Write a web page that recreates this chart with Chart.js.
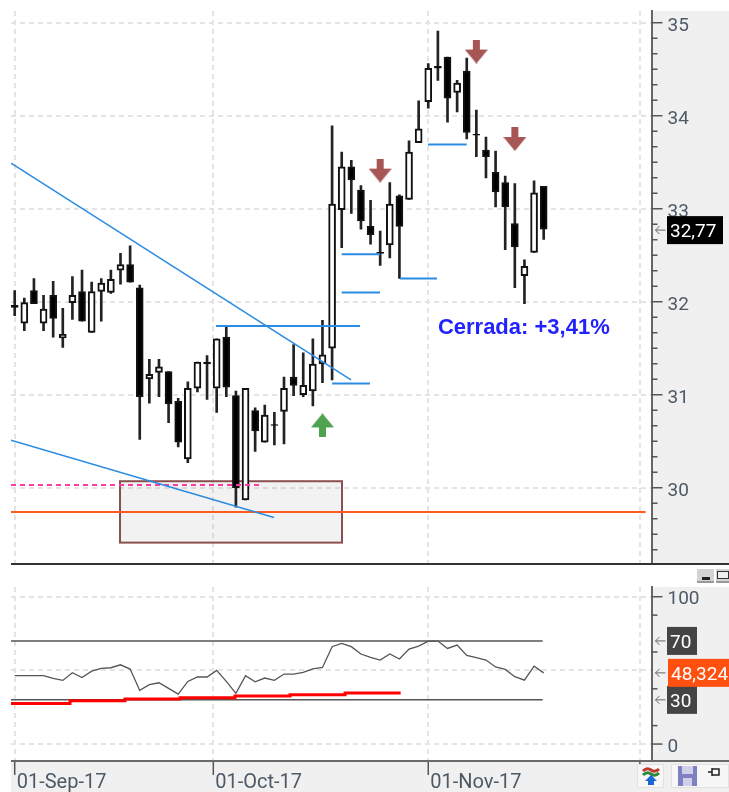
<!DOCTYPE html>
<html lang="en">
<head>
  <meta charset="UTF-8">
  <title>Candlestick chart with RSI</title>
  <script src="https://cdn.jsdelivr.net/npm/chart.js"></script>
  <style>
    body { margin: 0; background: #fff; }
    #page { position: relative; width: 729px; height: 792px; overflow: hidden; }
    #page canvas { position: absolute; left: 0; }
    .panel { position: absolute; background: #f0f0f0; }
    .rule { position: absolute; }
    .btn { position: absolute; background: #f7f7f7; border: 1px solid #e2e2e2; box-sizing: border-box; }
    .win { position: absolute; top: 569px; height: 14px; background: #d4d4d4; border-bottom: 2px solid #999; box-sizing: border-box; }
  </style>
</head>
<body>
<div id="page">
  <div class="panel" style="left:652px;top:11px;width:77px;height:553px"></div>
  <div class="panel" style="left:652px;top:587px;width:77px;height:174px"></div>
  <div class="panel" style="left:11px;top:761px;width:718px;height:31px"></div>
  <div class="win" style="left:697px;width:17px"><div style="position:absolute;left:5px;top:8px;width:8px;height:3px;background:#222"></div></div>
  <div class="win" style="left:716px;width:13px"><div style="position:absolute;left:1px;top:2px;width:12px;height:8px;border:1px solid #333;box-sizing:border-box;background:#eee"></div></div>
  <canvas id="priceChart" width="729" height="564" style="top:0"></canvas>
  <canvas id="rsiChart" width="729" height="227" style="top:565px"></canvas>
  <div class="rule" style="left:11px;top:563px;width:718px;height:2px;background:#333"></div>
  <div class="rule" style="left:11px;top:760px;width:718px;height:2px;background:#6a6a6a"></div>
  <div class="btn" style="left:637px;top:764px;width:27px;height:24px">
    <svg width="25" height="22" viewBox="0 0 25 22">
      <path d="M5 6 Q9 2 13 5 T21 4" stroke="#c0392b" stroke-width="3" fill="none"/>
      <path d="M5 10 Q9 6 13 9 T21 8" stroke="#2e8b3d" stroke-width="3" fill="none"/>
      <path d="M13 10 L19 16 L16 16 L16 20 L10 20 L10 16 L7 16 Z" fill="#1a66d6"/>
    </svg>
  </div>
  <div class="btn" style="left:671px;top:764px;width:58px;height:24px">
    <svg width="56" height="22" viewBox="0 0 56 22">
      <rect x="6" y="1" width="19" height="20" fill="#7f7fc4"/>
      <rect x="10" y="1" width="11" height="8" fill="#cfcfe8"/>
      <rect x="11" y="13" width="9" height="8" fill="#cfcfe8"/>
      <path d="M36 7 H40 M40 3 V11 M40 4 H47 V10 H40" stroke="#222" stroke-width="1.5" fill="none"/>
    </svg>
  </div>
</div>

<script>
  // Daily candles, 01-Sep-17 onward, one entry per trading day
  let opens = [31.96, 31.77, 32.12, 31.77, 32.07, 31.61, 31.99, 32.11, 31.67, 32.11, 32.10, 32.34, 32.40, 32.15,
    31.17, 31.24, 31.25, 30.93, 30.31, 31.07, 31.35, 31.07, 31.62, 30.99, 29.87, 30.83, 30.49, 30.68,
    30.82, 31.19, 31.00, 31.04, 31.33, 31.50, 32.99, 33.45, 33.20, 32.81, 32.53, 32.61, 33.14, 33.10,
    33.71, 34.15, 34.53, 34.63, 34.25, 34.48, 33.80, 33.63, 33.39, 33.28, 32.84, 32.28, 32.53, 33.24];
  let highs = [32.12, 32.04, 32.25, 32.07, 32.22, 31.93, 32.27, 32.34, 32.21, 32.25, 32.34, 32.52, 32.60, 32.18,
    31.38, 31.38, 31.25, 30.96, 31.14, 31.35, 31.42, 31.60, 31.74, 31.04, 31.07, 30.86, 30.89, 30.81,
    31.19, 31.54, 31.45, 31.60, 31.80, 33.89, 33.61, 33.52, 33.25, 33.09, 32.76, 33.28, 33.15, 33.73,
    34.16, 34.56, 34.91, 34.63, 34.38, 34.62, 34.06, 33.77, 33.62, 33.35, 33.27, 32.45, 33.30, 33.24];
  let lows = [31.85, 31.69, 31.98, 31.69, 31.62, 31.51, 31.81, 31.79, 31.67, 31.79, 32.09, 32.19, 32.21, 30.52,
    30.91, 30.98, 30.70, 30.44, 30.27, 31.03, 30.95, 30.81, 30.98, 29.79, 29.87, 30.39, 30.49, 30.46,
    30.47, 30.99, 30.98, 30.88, 31.13, 31.16, 32.58, 32.95, 32.78, 32.62, 32.39, 32.47, 32.25, 33.10,
    33.71, 34.08, 34.38, 33.93, 34.04, 33.75, 33.56, 33.33, 33.02, 32.56, 32.15, 31.98, 32.53, 32.67];
  let closes = [31.94, 31.99, 31.98, 31.92, 31.82, 31.65, 32.07, 31.79, 32.11, 32.20, 32.24, 32.40, 32.21, 30.98,
    31.22, 31.30, 30.90, 30.49, 31.07, 31.35, 31.33, 31.60, 31.08, 30.00, 31.07, 30.61, 30.78, 30.67,
    31.07, 31.10, 31.10, 31.33, 31.43, 33.05, 33.45, 33.31, 32.87, 32.72, 32.52, 33.05, 32.81, 33.61,
    33.86, 34.51, 34.51, 34.19, 34.35, 33.82, 33.79, 33.56, 33.18, 33.02, 32.59, 32.38, 33.17, 32.78];

  // RSI and the weekly RSI step line
  let rsi = [46.4, 46.4, 46.4, 46.4, 44.6, 43.2, 48.4, 45.2, 49.5, 51.3, 51.8, 53.8, 50.9, 36.4,
    40.3, 41.6, 37.8, 33.9, 42.5, 45.5, 45.5, 50.0, 42.5, 34.4, 46.4, 42.3, 44.8, 43.2,
    47.5, 47.5, 48.6, 51.1, 52.0, 66.1, 68.3, 66.1, 61.1, 58.8, 57.0, 61.1, 57.7, 64.5,
    66.5, 69.9, 69.9, 64.9, 67.2, 60.2, 58.6, 57.0, 52.3, 50.7, 45.7, 43.4, 52.9, 48.32];
  let weeklyX = [-0.385, 5.75, 11.47, 17.19, 22.9, 28.63, 34.35, 40.13];
  let weeklyRsi = [27.6, 29.4, 30.5, 31.4, 32.6, 33.5, 34.6, 34.6];

  // Ticks
  let xTicks = [0, 20.65, 43, 65];
  let xTickLabels = ['01-Sep-17', '01-Oct-17', '01-Nov-17', ''];
  let priceTicks = [30, 31, 32, 33, 34, 35];
  let rsiTicks = [0, 50, 100];
  let rsiLabels = { 0: '0', 100: '100' };
  let rsiMinorTicks = [12.5, 37.5, 62.5, 87.5];

  // Drawing tools on the price panel
  let trendA = [[-0.385, 33.49], [34.97, 31.16]];
  let trendB = [[-0.385, 30.51], [26.96, 29.68]];
  let levelStart = [20.93, 34.0, 34.0, 33.0, 40.06, 42.97];
  let levelEnd = [35.9, 37.98, 37.98, 36.94, 43.9, 47.0];
  let levelValue = [31.74, 32.51, 32.10, 31.12, 32.25, 33.69];
  let orangeLine = [[-0.385, 29.74], [65.6, 29.74]];
  let pinkLine = [[-0.385, 30.03], [25.5, 30.03]];
  let boxX = [10.95, 34.03];
  let boxY = [29.41, 30.07];
  let sellX = [38, 48, 52];
  let sellY = [33.41, 34.69, 33.75];
  let buyX = [32];
  let buyY = [30.67];
  let noteText = 'Cerrada: +3,41%';
  let lastPrice = 32.77;
  let lastRsi = 48.324;
  let rsiBands = [70, 30];

  let xMin = -0.385, xMax = 66.21;
  let axisFont = { family: 'Roboto', size: 19 };
  let dateFont = { family: 'Roboto', size: 20 };
  let labelColor = '#4d5a66';
  let gridColor = '#e4e4e4';

  function points(pairs) {
    return pairs.map(p => ({ x: p[0], y: p[1] }));
  }

  function lineSet(data, color, width, dash) {
    return {
      type: 'line', data: data, borderColor: color, borderWidth: width,
      borderDash: dash || [], pointRadius: 0, tension: 0, order: 1
    };
  }

  // Little arrow sprite used as the point style for the signals
  function arrowSprite(color, up) {
    let c = document.createElement('canvas');
    c.width = 23; c.height = 24;
    let g = c.getContext('2d');
    if (up) { g.translate(0, 24); g.scale(1, -1); }
    g.fillStyle = color;
    g.beginPath();
    g.moveTo(8, 0); g.lineTo(15, 0); g.lineTo(15, 10); g.lineTo(23, 10);
    g.lineTo(11.5, 24); g.lineTo(0, 10); g.lineTo(8, 10);
    g.closePath();
    g.fill();
    return c;
  }

  function markerSet(xs, ys, sprite) {
    return {
      type: 'line', showLine: false, data: xs.map((x, i) => ({ x: x, y: ys[i] })),
      pointStyle: sprite, pointRadius: 12, order: 0
    };
  }

  let isUp = closes.map((c, i) => c >= opens[i]);

  let wicks = {
    type: 'bar', data: highs.map((h, i) => ({ x: i, y: [lows[i], h] })),
    backgroundColor: '#222', barThickness: 2, grouped: false, order: 3
  };
  let bodies = {
    type: 'bar', data: opens.map((o, i) => ({ x: i, y: [o, closes[i]] })),
    backgroundColor: isUp.map(u => u ? '#fff' : '#000'), borderColor: '#111',
    borderWidth: 2, borderSkipped: false, barThickness: 7, grouped: false, order: 2
  };

  let levelSets = levelValue.map((v, i) =>
    lineSet([{ x: levelStart[i], y: v }, { x: levelEnd[i], y: v }], '#2a8be2', 2));

  function fixedTicks(values) {
    return function(scale) { scale.ticks = values.map(v => ({ value: v })); };
  }

  // Keep the plot area fixed, whatever the labels would ask for
  function fitAxis(width, height) {
    return function(scale) {
      if (width !== null) scale.width = width;
      if (height !== null) scale.height = height;
      scale.paddingTop = scale.paddingBottom = scale.paddingLeft = scale.paddingRight = 0;
    };
  }

  // Small horizontal left-pointing arrow next to a tag
  function tagArrow(ctx, x, y) {
    ctx.strokeStyle = '#666';
    ctx.lineWidth = 1;
    ctx.beginPath();
    ctx.moveTo(x + 10, y); ctx.lineTo(x, y);
    ctx.moveTo(x + 4, y - 4); ctx.lineTo(x, y); ctx.lineTo(x + 4, y + 4);
    ctx.stroke();
  }

  function valueTag(ctx, text, y, left, width, height, bg) {
    ctx.fillStyle = bg;
    ctx.fillRect(left, y - height / 2, width, height);
    ctx.fillStyle = '#fff';
    ctx.font = '19px Roboto';
    ctx.textAlign = 'left';
    ctx.textBaseline = 'middle';
    ctx.fillText(text, left + 3, y + 2);
  }

  function axisMarks(ctx, scale, right, values, length) {
    ctx.strokeStyle = '#555';
    ctx.lineWidth = 1.5;
    values.forEach(v => {
      let y = scale.getPixelForValue(v);
      ctx.beginPath();
      ctx.moveTo(right, y);
      ctx.lineTo(right + length, y);
      ctx.stroke();
    });
  }

  let boxPlugin = {
    id: 'boxPlugin',
    beforeDatasetsDraw(chart) {
      let x = chart.scales.x, y = chart.scales.y, ctx = chart.ctx;
      let left = x.getPixelForValue(boxX[0]), right = x.getPixelForValue(boxX[1]);
      let top = y.getPixelForValue(boxY[1]), bottom = y.getPixelForValue(boxY[0]);
      ctx.save();
      ctx.fillStyle = 'rgba(128,128,128,0.1)';
      ctx.fillRect(left, top, right - left, bottom - top);
      ctx.strokeStyle = '#8a4f4f';
      ctx.lineWidth = 2;
      ctx.strokeRect(left, top, right - left, bottom - top);
      ctx.restore();
    }
  };

  let priceDecor = {
    id: 'priceDecor',
    afterDraw(chart) {
      let x = chart.scales.x, y = chart.scales.y, ctx = chart.ctx;
      let right = chart.chartArea.right;
      ctx.save();
      // minor ticks every sixth of a unit
      let minor = [];
      for (let p = 29; p < 35; p++) {
        for (let k = 1; k < 6; k++) minor.push(p + k / 6);
      }
      axisMarks(ctx, y, right, priceTicks, 11);
      axisMarks(ctx, y, right, minor.filter(v => v > y.min && v < y.max), 6);

      ctx.fillStyle = '#2222ff';
      ctx.font = 'bold 22px "Liberation Sans"';
      ctx.textAlign = 'left';
      ctx.textBaseline = 'middle';
      ctx.fillText(noteText, x.getPixelForValue(44), y.getPixelForValue(31.72));

      let tagY = y.getPixelForValue(lastPrice);
      tagArrow(ctx, right + 4, tagY);
      valueTag(ctx, String(lastPrice).replace('.', ','), tagY, 667, 56, 28, '#000');
      ctx.restore();
    }
  };

  let rsiDecor = {
    id: 'rsiDecor',
    afterDraw(chart) {
      let x = chart.scales.x, y = chart.scales.y, ctx = chart.ctx;
      let right = chart.chartArea.right, bottom = chart.chartArea.bottom;
      ctx.save();
      axisMarks(ctx, y, right, [0, 100], 11);
      axisMarks(ctx, y, right, rsiMinorTicks, 6);

      // date ticks under the panel
      ctx.strokeStyle = '#555';
      ctx.lineWidth = 1.5;
      xTicks.forEach((t, i) => {
        let px = x.getPixelForValue(t);
        ctx.beginPath();
        ctx.moveTo(px, bottom);
        ctx.lineTo(px, bottom + (xTickLabels[i] ? 14 : 3));
        ctx.stroke();
      });

      rsiBands.concat([lastRsi]).forEach(v => tagArrow(ctx, right + 4, y.getPixelForValue(v)));
      valueTag(ctx, '70', y.getPixelForValue(70), 667, 30, 28, '#444');
      valueTag(ctx, '30', y.getPixelForValue(30), 667, 30, 28, '#444');
      valueTag(ctx, String(lastRsi).replace('.', ','), y.getPixelForValue(lastRsi), 668, 61, 28, '#ff5010');
      ctx.restore();
    }
  };

  new Chart(document.getElementById('priceChart').getContext('2d'), {
    data: {
      datasets: [
        wicks,
        bodies,
        lineSet(points(trendA), '#2a8be2', 1.5),
        lineSet(points(trendB), '#2a8be2', 1.5),
        ...levelSets,
        lineSet(points(orangeLine), '#ff5a1f', 2),
        lineSet(points(pinkLine), '#ff3aa0', 2, [5, 4]),
        markerSet(sellX, sellY, arrowSprite('#a85555', false)),
        markerSet(buyX, buyY, arrowSprite('#4fa34f', true))
      ]
    },
    options: {
      responsive: false,
      animation: false,
      layout: { autoPadding: false, padding: { left: 11, top: 11 } },
      plugins: { legend: { display: false }, tooltip: { enabled: false } },
      scales: {
        x: {
          type: 'linear', min: xMin, max: xMax, offset: false,
          afterBuildTicks: fixedTicks(xTicks),
          afterFit: fitAxis(null, 0),
          ticks: { display: false },
          border: { display: false, dash: [5, 4] },
          grid: { color: gridColor, lineWidth: 2, drawTicks: false, offset: false }
        },
        y: {
          position: 'right', min: 29.18, max: 35.126,
          afterBuildTicks: fixedTicks(priceTicks),
          afterFit: fitAxis(77.5, null),
          ticks: { font: axisFont, color: labelColor, padding: 16, labelOffset: 4 },
          border: { color: '#666', width: 2, dash: [5, 4] },
          grid: { color: gridColor, lineWidth: 2, drawTicks: false }
        }
      }
    },
    plugins: [boxPlugin, priceDecor]
  });

  new Chart(document.getElementById('rsiChart').getContext('2d'), {
    type: 'line',
    data: {
      datasets: [
        lineSet(rsi.map((v, i) => ({ x: i, y: v })), '#555', 1.3),
        Object.assign(lineSet(weeklyX.map((x, i) => ({ x: x, y: weeklyRsi[i] })), '#ff0000', 3), { stepped: true, order: 0 }),
        lineSet(points([[xMin, rsiBands[0]], [54.9, rsiBands[0]]]), '#555', 1.5),
        lineSet(points([[xMin, rsiBands[1]], [54.9, rsiBands[1]]]), '#555', 1.5)
      ]
    },
    options: {
      responsive: false,
      animation: false,
      layout: { autoPadding: false, padding: { left: 11, top: 22 } },
      plugins: { legend: { display: false }, tooltip: { enabled: false } },
      scales: {
        x: {
          type: 'linear', min: xMin, max: xMax,
          afterBuildTicks: fixedTicks(xTicks),
          afterFit: fitAxis(null, 31),
          ticks: {
            font: dateFont, color: labelColor, align: 'start', labelOffset: 2, padding: 10,
            autoSkip: false, maxRotation: 0, minRotation: 0,
            callback: (value, index) => xTickLabels[index]
          },
          border: { display: false, dash: [5, 4] },
          grid: { color: gridColor, lineWidth: 2, drawTicks: false }
        },
        y: {
          position: 'right', min: -11.5, max: 106.6,
          afterBuildTicks: fixedTicks(rsiTicks),
          afterFit: fitAxis(77.5, null),
          ticks: {
            font: axisFont, color: labelColor, padding: 16, labelOffset: 3,
            callback: value => rsiLabels[value] || ''
          },
          border: { color: '#666', width: 2, dash: [5, 4] },
          grid: { color: gridColor, lineWidth: 2, drawTicks: false }
        }
      }
    },
    plugins: [rsiDecor]
  });
</script>
</body>
</html>
